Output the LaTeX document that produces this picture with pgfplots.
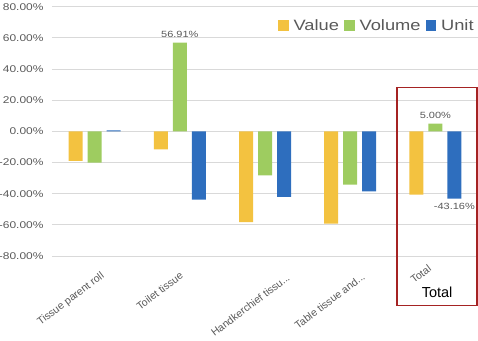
\documentclass[border=0pt]{standalone}
\usepackage{pgfplots}
\pgfplotsset{compat=1.18}
\usepackage{fontspec}
\setmainfont[FakeStretch=1.22]{Liberation Sans}
\newfontfamily\plainfont{Liberation Sans}
\definecolor{cval}{RGB}{243,194,64}
\definecolor{cvol}{RGB}{158,204,96}
\definecolor{cunit}{RGB}{46,110,190}
\definecolor{txtgray}{RGB}{89,89,89}
\definecolor{gridgray}{RGB}{217,217,217}
\definecolor{boxred}{RGB}{165,35,35}
\newcommand\dd{...}
\newcommand\setlsh{\ifcase\ticknum
  \def\lshx{5.5}\def\lshy{-15}\or
  \def\lshx{-0.5}\def\lshy{-15}\or
  \def\lshx{21}\def\lshy{-17}\or
  \def\lshx{11}\def\lshy{-16}\or
  \def\lshx{-8}\def\lshy{-8}\else
  \def\lshx{0}\def\lshy{0}\fi}
\begin{document}
\begin{tikzpicture}
\begin{axis}[
  scale only axis, width=426pt, height=249.3pt,
  xmin=-0.5, xmax=4.5, ymin=-80, ymax=80,
  ytick={-80,-60,-40,-20,0,20,40,60,80},
  xtick={0,1,2,3,4},
  xticklabels={Tissue parent roll, Toilet tissue, Handkerchief tissu\dd, Table tissue and\dd, Total},
  xticklabel style={/utils/exec={\setlsh}, xshift=\lshx pt, yshift=\lshy pt, rotate=37, anchor=north east, font=\plainfont\fontsize{10.5}{12}\selectfont, text=txtgray, inner sep=0pt},
  yticklabel={\pgfmathprintnumber[fixed,zerofill,precision=2]{\tick}\%},
  yticklabel style={font=\fontsize{9.8}{11}\selectfont, text=txtgray, xshift=-5pt},
  /pgf/number format/assume math mode=true,
  axis line style={draw=none},
  major tick length=0pt,
  ymajorgrids, grid style={gridgray, line width=0.8pt},
  ybar=5pt, bar width=14pt,
  clip=false,
  legend style={at={(1.002,0.965)}, anchor=north east, draw=none, fill=none, font=\fontsize{15}{17}\selectfont, text=txtgray, legend columns=3, /tikz/every odd column/.append style={column sep=3pt}, /tikz/every even column/.append style={column sep=3pt}},
  legend image code/.code={\fill[#1] (0pt,-5pt) rectangle (10.5pt,5.5pt);},
]
\addplot[draw=none, fill=cval] coordinates {(0,-19.0) (1,-11.5) (2,-58.2) (3,-59.2) (4,-40.6)};
\addplot[draw=none, fill=cvol] coordinates {(0,-20.1) (1,56.91) (2,-28.2) (3,-34.2) (4,5.00)};
\addplot[draw=none, fill=cunit] coordinates {(0,0.6) (1,-43.8) (2,-42.1) (3,-38.5) (4,-43.16)};
\legend{Value, Volume, Unit}
\node[above, font=\fontsize{9}{10}\selectfont, text=txtgray, inner sep=5pt] at (axis cs:1,56.91) {56.91\%};
\node[above, font=\fontsize{9}{10}\selectfont, text=txtgray, inner sep=5pt] at (axis cs:4,5.00) {5.00\%};
\node[below, font=\fontsize{9}{10}\selectfont, text=txtgray, inner sep=4pt, xshift=19pt] at (axis cs:4,-43.16) {-43.16\%};
\coordinate (tot) at (axis cs:4.02,-103.3);
\coordinate (boxa) at (axis cs:3.549,28.2);
\coordinate (boxb) at (axis cs:4.488,-111.7);
\end{axis}
\node[fill=white, inner xsep=13pt, inner ysep=6pt, font=\plainfont\fontsize{14.5}{16}\selectfont] at (tot) {Total};
\draw[boxred, line width=1.4pt] (boxa) rectangle (boxb);
\pgfresetboundingbox
\path (current axis.south west) ++(-52pt,-84pt) rectangle ++(478pt,340pt);
\end{tikzpicture}
\end{document}
